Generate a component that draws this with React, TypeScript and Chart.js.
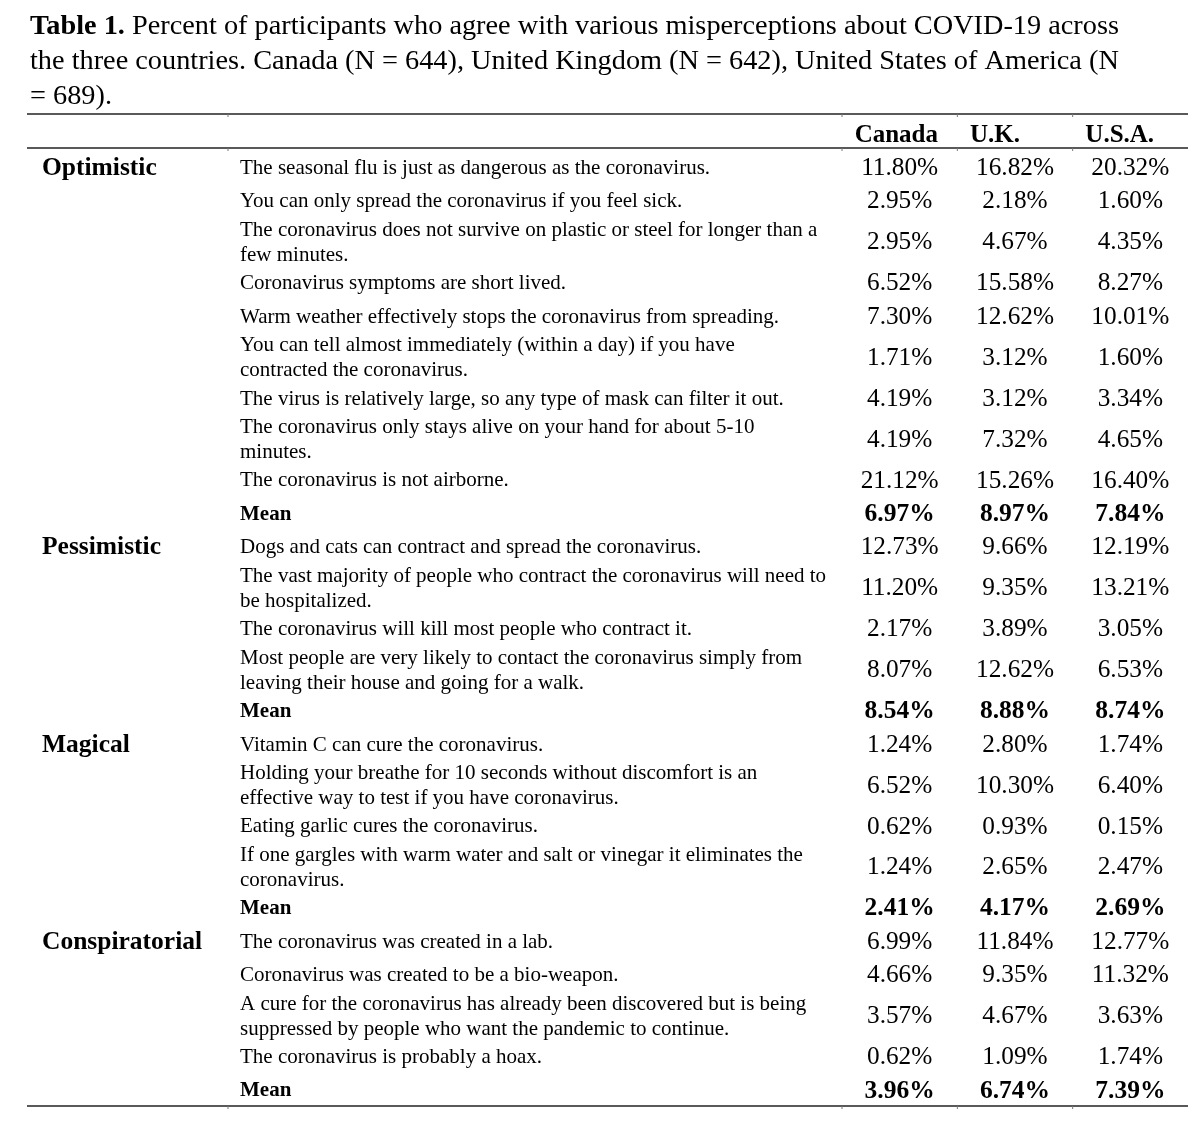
import React, { useEffect, useRef } from 'react';
import { Chart, registerables } from 'chart.js';

Chart.register(...registerables);

const FONT = "'Liberation Serif', 'Times New Roman', Times, serif";

const titleBold = 'Table 1.';
const titleLines = [
  ' Percent of participants who agree with various misperceptions about COVID-19 across',
  'the three countries. Canada (N = 644), United Kingdom (N = 642), United States of America (N',
  '= 689).',
];

const countries = ['Canada', 'U.K.', 'U.S.A.'];
const groups = ['Optimistic', 'Pessimistic', 'Magical', 'Conspiratorial'];
const meanLabel = 'Mean';

const statements = [
  'The seasonal flu is just as dangerous as the coronavirus.',
  'You can only spread the coronavirus if you feel sick.',
  'The coronavirus does not survive on plastic or steel for longer than a\nfew minutes.',
  'Coronavirus symptoms are short lived.',
  'Warm weather effectively stops the coronavirus from spreading.',
  'You can tell almost immediately (within a day) if you have\ncontracted the coronavirus.',
  'The virus is relatively large, so any type of mask can filter it out.',
  'The coronavirus only stays alive on your hand for about 5-10\nminutes.',
  'The coronavirus is not airborne.',
  'Dogs and cats can contract and spread the coronavirus.',
  'The vast majority of people who contract the coronavirus will need to\nbe hospitalized.',
  'The coronavirus will kill most people who contract it.',
  'Most people are very likely to contact the coronavirus simply from\nleaving their house and going for a walk.',
  'Vitamin C can cure the coronavirus.',
  'Holding your breathe for 10 seconds without discomfort is an\neffective way to test if you have coronavirus.',
  'Eating garlic cures the coronavirus.',
  'If one gargles with warm water and salt or vinegar it eliminates the\ncoronavirus.',
  'The coronavirus was created in a lab.',
  'Coronavirus was created to be a bio-weapon.',
  'A cure for the coronavirus has already been discovered but is being\nsuppressed by people who want the pandemic to continue.',
  'The coronavirus is probably a hoax.',
];
const statementGroup = [0, 0, 0, 0, 0, 0, 0, 0, 0, 1, 1, 1, 1, 2, 2, 2, 2, 3, 3, 3, 3];

const canadaValues = [11.8, 2.95, 2.95, 6.52, 7.3, 1.71, 4.19, 4.19, 21.12, 12.73, 11.2, 2.17, 8.07, 1.24, 6.52, 0.62, 1.24, 6.99, 4.66, 3.57, 0.62];
const ukValues = [16.82, 2.18, 4.67, 15.58, 12.62, 3.12, 3.12, 7.32, 15.26, 9.66, 9.35, 3.89, 12.62, 2.8, 10.3, 0.93, 2.65, 11.84, 9.35, 4.67, 1.09];
const usaValues = [20.32, 1.6, 4.35, 8.27, 10.01, 1.6, 3.34, 4.65, 16.4, 12.19, 13.21, 3.05, 6.53, 1.74, 6.4, 0.15, 2.47, 12.77, 11.32, 3.63, 1.74];
const canadaMeans = [6.97, 8.54, 2.41, 3.96];
const ukMeans = [8.97, 8.88, 4.17, 6.74];
const usaMeans = [7.84, 8.74, 2.69, 7.39];

type Row = { label: string[]; isMean: boolean; group: number; first: boolean; values: number[] };

function buildRows(): Row[] {
  const rows: Row[] = [];
  groups.forEach((_g, gi) => {
    let first = true;
    statements.forEach((s, si) => {
      if (statementGroup[si] !== gi) return;
      rows.push({ label: s.split('\n'), isMean: false, group: gi, first, values: [canadaValues[si], ukValues[si], usaValues[si]] });
      first = false;
    });
    rows.push({ label: [meanLabel], isMean: true, group: gi, first: false, values: [canadaMeans[gi], ukMeans[gi], usaMeans[gi]] });
  });
  return rows;
}

export default function App() {
  const ref = useRef<HTMLCanvasElement | null>(null);

  useEffect(() => {
    if (!ref.current) return;
    const rows = buildRows();
    const centers: number[] = [];
    let acc = 0;
    rows.forEach((r) => {
      const h = r.label.length > 1 ? 1.45 : 1;
      centers.push(acc + h / 2);
      acc += h;
    });
    const total = acc;
    const yMin = -0.11;
    const yMax = total - 0.05;
    const groupCenters = groups.map((_g, gi) => centers[rows.findIndex((r) => r.group === gi && r.first)]);

    const titlePlugin = {
      id: 'tableTitle',
      beforeDraw(chart: any) {
        const ctx = chart.ctx;
        ctx.save();
        ctx.fillStyle = '#000';
        ctx.textBaseline = 'alphabetic';
        ctx.textAlign = 'left';
        const x0 = 30;
        const base = 34;
        const lh = 35;
        ctx.font = `bold 28.3px ${FONT}`;
        ctx.fillText(titleBold, x0, base);
        const w = ctx.measureText(titleBold).width;
        ctx.font = `28.3px ${FONT}`;
        ctx.fillText(titleLines[0], x0 + w, base);
        ctx.fillText(titleLines[1], x0, base + lh);
        ctx.fillText(titleLines[2], x0, base + 2 * lh);
        ctx.restore();
      },
    };

    const rulesPlugin = {
      id: 'tableRules',
      afterDraw(chart: any) {
        const ctx = chart.ctx;
        const area = chart.chartArea;
        const xs = chart.scales.x;
        const ys = chart.scales.y;
        const left = chart.scales.yGroup.left - 15;
        const right = area.right;
        const ysLines = [xs.top, area.top, area.bottom];
        ctx.save();
        ctx.strokeStyle = '#222';
        ctx.lineWidth = 1.5;
        ysLines.forEach((y: number) => {
          ctx.beginPath();
          ctx.moveTo(left, y);
          ctx.lineTo(right, y);
          ctx.stroke();
        });
        const colW = (area.right - area.left) / countries.length;
        const marks = [ys.left - 12, area.left, area.left + colW, area.left + 2 * colW];
        ctx.lineWidth = 1;
        ctx.strokeStyle = '#777';
        ysLines.forEach((y: number) => {
          marks.forEach((mx) => {
            ctx.beginPath();
            ctx.moveTo(mx, y);
            ctx.lineTo(mx, y + 3);
            ctx.stroke();
          });
        });
        ctx.restore();
      },
    };

    const valuesPlugin = {
      id: 'cellValues',
      afterDatasetsDraw(chart: any) {
        const ctx = chart.ctx;
        ctx.save();
        ctx.fillStyle = '#000';
        ctx.textAlign = 'center';
        ctx.textBaseline = 'middle';
        chart.data.datasets.forEach((_ds: any, d: number) => {
          const meta = chart.getDatasetMeta(d);
          meta.data.forEach((el: any, i: number) => {
            const r = rows[i];
            ctx.font = r.isMean ? `bold 25.5px ${FONT}` : `25.3px ${FONT}`;
            ctx.fillText(r.values[d].toFixed(2) + '%', el.x, el.y);
          });
        });
        ctx.restore();
      },
    };

    const chart = new Chart(ref.current, {
      type: 'scatter',
      data: {
        datasets: countries.map((c) => ({
          label: c,
          data: rows.map((_r, i) => ({ x: c as any, y: centers[i] })),
          pointRadius: 0,
          pointHoverRadius: 0,
          showLine: false,
          xAxisID: 'x',
          yAxisID: 'y',
        })),
      },
      options: {
        animation: false,
        responsive: false,
        devicePixelRatio: 1,
        events: [],
        layout: { padding: { left: 42, top: 114, right: 12, bottom: 18 } },
        plugins: { legend: { display: false }, tooltip: { enabled: false }, title: { display: false } },
        scales: {
          x: {
            type: 'category',
            labels: countries,
            position: 'top',
            offset: true,
            grid: { display: false },
            border: { display: false },
            ticks: {
              color: '#000',
              font: { family: FONT, size: 25, weight: 'bold' },
              align: 'start',
              labelOffset: -45,
              padding: -11,
              autoSkip: false,
              maxRotation: 0,
              minRotation: 0,
            },
            afterFit: (s: any) => {
              s.height = 34;
              s.paddingLeft = 0;
              s.paddingRight = 0;
            },
          },
          y: {
            type: 'linear',
            position: 'left',
            weight: 0,
            reverse: true,
            min: yMin,
            max: yMax,
            grid: { display: false },
            border: { display: false },
            afterBuildTicks: (s: any) => {
              s.ticks = centers.map((v) => ({ value: v }));
            },
            ticks: {
              color: '#000',
              autoSkip: false,
              crossAlign: 'far',
              padding: 0,
              callback: (_v: any, i: number) => rows[i].label,
              font: (ctx: any) =>
                rows[ctx.index] && rows[ctx.index].isMean
                  ? { family: FONT, size: 21, weight: 'bold', lineHeight: 1.2 }
                  : { family: FONT, size: 21, lineHeight: 1.2 },
            },
            afterFit: (s: any) => {
              s.width = 602;
              s.paddingTop = 0;
              s.paddingBottom = 0;
            },
          },
          yGroup: {
            type: 'linear',
            position: 'left',
            weight: 1,
            reverse: true,
            min: yMin,
            max: yMax,
            grid: { display: false },
            border: { display: false },
            afterBuildTicks: (s: any) => {
              s.ticks = groupCenters.map((v) => ({ value: v }));
            },
            ticks: {
              color: '#000',
              autoSkip: false,
              crossAlign: 'far',
              padding: 0,
              callback: (_v: any, i: number) => groups[i],
              font: { family: FONT, size: 25.5, weight: 'bold' },
            },
            afterFit: (s: any) => {
              s.width = 198;
              s.paddingTop = 0;
              s.paddingBottom = 0;
            },
          },
        },
      } as any,
      plugins: [titlePlugin, rulesPlugin, valuesPlugin],
    });
    return () => chart.destroy();
  }, []);

  return (
    <div style={{ position: 'absolute', left: 0, top: 0, width: 1200, height: 1124, background: '#fff' }}>
      <canvas ref={ref} width={1200} height={1124} style={{ display: 'block', width: 1200, height: 1124 }} />
    </div>
  );
}
